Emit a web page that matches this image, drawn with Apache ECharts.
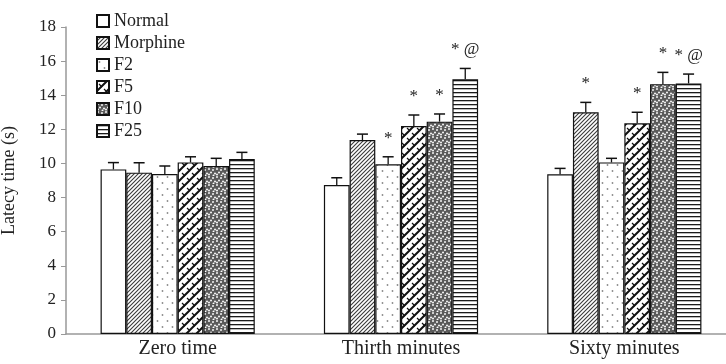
<!DOCTYPE html>
<html>
<head>
<meta charset="utf-8">
<script src="https://cdn.jsdelivr.net/npm/echarts@6/dist/echarts.min.js"></script>
<style>html,body{margin:0;padding:0;background:#fff}#c{width:726px;height:364px}</style>
</head>
<body>
<div id="c"></div>
<script>
// ---- data ----
var categories = ['Zero time', 'Thirth minutes', 'Sixty minutes'];
var seriesNames = ['Normal', 'Morphine', 'F2', 'F5', 'F10', 'F25'];
var yTicks = [0, 2, 4, 6, 8, 10, 12, 14, 16, 18];

var normal   = [9.65, 8.73, 9.36];
var morphine = [9.46, 11.37, 13.0];
var f2       = [9.38, 9.95, 10.06];
var f5       = [10.06, 12.19, 12.35];
var f10      = [9.85, 12.45, 14.65];
var f25      = [10.26, 14.93, 14.69];

var normalErr   = [0.40, 0.43, 0.35];
var morphineErr = [0.58, 0.35, 0.58];
var f2Err       = [0.47, 0.44, 0.24];
var f5Err       = [0.33, 0.65, 0.65];
var f10Err      = [0.45, 0.45, 0.69];
var f25Err      = [0.39, 0.64, 0.55];

var normalSig   = ['', '', ''];
var morphineSig = ['', '', '*'];
var f2Sig       = ['', '*', ''];
var f5Sig       = ['', '*', '*'];
var f10Sig      = ['', '*', '*'];
var f25Sig      = ['', '*@', '*@'];

var values = [normal, morphine, f2, f5, f10, f25];
var errs = [normalErr, morphineErr, f2Err, f5Err, f10Err, f25Err];
var sigs = [normalSig, morphineSig, f2Sig, f5Sig, f10Sig, f25Sig];

// ---- patterns (style only) ----
function tile(w, h, draw) {
  var c = document.createElement('canvas');
  c.width = w; c.height = h;
  var g = c.getContext('2d');
  g.fillStyle = '#fff'; g.fillRect(0, 0, w, h);
  draw(g, w, h);
  return { image: c, repeat: 'repeat' };
}
var patterns = [
  '#ffffff',
  tile(4, 4, function (g) {
    g.strokeStyle = '#3a3a3a'; g.lineWidth = 1.1;
    g.beginPath();
    g.moveTo(-1, 5); g.lineTo(5, -1);
    g.moveTo(-1, 1); g.lineTo(1, -1);
    g.moveTo(3, 5); g.lineTo(5, 3);
    g.stroke();
  }),
  tile(10, 12, function (g) {
    g.fillStyle = '#8a8a8a';
    g.beginPath(); g.arc(2.5, 3, 0.9, 0, Math.PI * 2); g.fill();
    g.beginPath(); g.arc(7.5, 9, 0.9, 0, Math.PI * 2); g.fill();
  }),
  tile(10, 10, function (g) {
    g.strokeStyle = '#111'; g.lineWidth = 2;
    g.beginPath();
    g.moveTo(-2, 12); g.lineTo(12, -2);
    g.moveTo(-2, 2); g.lineTo(2, -2);
    g.moveTo(8, 12); g.lineTo(12, 8);
    g.stroke();
    g.lineWidth = 1.2;
    g.beginPath();
    g.moveTo(2, 3); g.lineTo(5, 6);
    g.moveTo(7, 8); g.lineTo(9, 10);
    g.stroke();
  }),
  tile(8, 8, function (g) {
    g.fillStyle = '#5a5a5a'; g.fillRect(0, 0, 8, 8);
    g.fillStyle = '#fff';
    var pts = [[1, 1], [5, 2], [3, 4.5], [7, 5.5], [1, 6.5], [5.5, 7.5]];
    pts.forEach(function (p) { g.beginPath(); g.arc(p[0], p[1], 0.95, 0, Math.PI * 2); g.fill(); });
  }),
  tile(4, 4, function (g) {
    g.fillStyle = '#1a1a1a'; g.fillRect(0, 0, 4, 1.3);
  })
];

var barW = 25.7;
var series = seriesNames.map(function (name, i) {
  return {
    name: name,
    type: 'bar',
    data: values[i],
    barWidth: barW,
    barGap: '0%',
    itemStyle: { color: patterns[i], borderColor: '#111', borderWidth: 1.2 },
    z: 2
  };
});

var errData = [];
for (var s = 0; s < 6; s++) {
  for (var k = 0; k < 3; k++) {
    errData.push([k, s, values[s][k], errs[s][k], sigs[s][k]]);
  }
}
series.push({
  type: 'custom',
  name: 'err',
  z: 5,
  silent: true,
  data: errData,
  encode: { x: 0, y: 2 },
  renderItem: function (params, api) {
    var cat = api.value(0), si = api.value(1), v = api.value(2), e = api.value(3);
    var sig = errData[params.dataIndex][4];
    var p0 = api.coord([cat, v]);
    var p1 = api.coord([cat, v + e]);
    var x = p0[0] + (si - 2.5) * barW;
    var children = [
      { type: 'line', shape: { x1: x, y1: p0[1], x2: x, y2: p1[1] }, style: { stroke: '#111', lineWidth: 1.3 } },
      { type: 'line', shape: { x1: x - 5.5, y1: p1[1], x2: x + 5.5, y2: p1[1] }, style: { stroke: '#111', lineWidth: 1.5 } }
    ];
    if (sig) {
      children.push({
        type: 'text',
        style: {
          x: x, y: p1[1] - 10, text: sig.split('').join(' '), align: 'center', verticalAlign: 'bottom',
          fill: '#222', font: '17px "Liberation Serif"'
        }
      });
    }
    return { type: 'group', children: children };
  }
});

var chart = echarts.init(document.getElementById('c'), null, { renderer: 'canvas' });
chart.setOption({
  animation: false,
  backgroundColor: '#fff',
  textStyle: { fontFamily: 'Liberation Serif' },
  grid: { left: 66, width: 670, top: 27, bottom: 30, containLabel: false, outerBoundsMode: 'none' },
  legend: {
    data: seriesNames,
    orient: 'vertical',
    left: 96, top: 12,
    itemWidth: 12, itemHeight: 12, itemGap: 4,
    padding: 0,
    icon: 'rect',
    textStyle: { fontFamily: 'Liberation Serif', fontSize: 18, color: '#222' }
  },
  xAxis: {
    type: 'category',
    data: categories,
    axisLine: { lineStyle: { color: '#999', width: 1.5 } },
    axisTick: { show: false },
    axisLabel: { fontFamily: 'Liberation Serif', fontSize: 20, color: '#222', margin: 5 }
  },
  yAxis: {
    type: 'value',
    min: yTicks[0], max: yTicks[yTicks.length - 1], interval: 2,
    name: 'Latecy time (s)',
    nameLocation: 'middle',
    nameGap: 48,
    nameTextStyle: { fontFamily: 'Liberation Serif', fontSize: 18, color: '#222' },
    axisLine: { show: true, lineStyle: { color: '#999', width: 1.5 } },
    axisTick: { show: true, length: 5, lineStyle: { color: '#999' } },
    splitLine: { show: false },
    axisLabel: { fontFamily: 'Liberation Serif', fontSize: 17, color: '#222', margin: 10 }
  },
  series: series
});
</script>
</body>
</html>
